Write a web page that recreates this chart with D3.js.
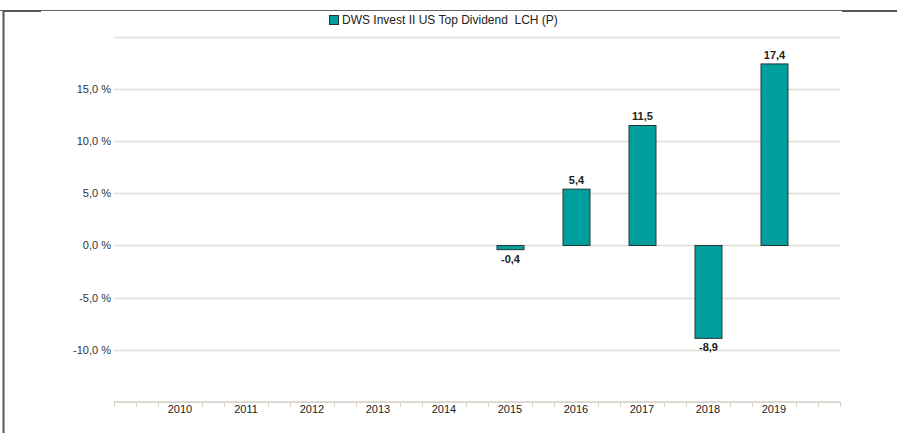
<!DOCTYPE html>
<html><head><meta charset="utf-8">
<script src="https://cdn.jsdelivr.net/npm/d3@7"></script>
<style>
html,body{margin:0;padding:0;background:#fff;}
svg{display:block;font-family:"Liberation Sans",Arial,sans-serif;}
</style></head>
<body>
<svg id="chart" width="897" height="433"></svg>
<script>
const years = [2010,2011,2012,2013,2014,2015,2016,2017,2018,2019];
const values = [null,null,null,null,null,-0.4,5.4,11.5,-8.9,17.4];
const yTicks = [-10,-5,0,5,10,15];
const gridTicks = [-10,-5,0,5,10,15,20];
const seriesName = "DWS Invest II US Top Dividend  LCH (P)";

const svg = d3.select("#chart");
const x = d3.scaleLinear().domain([2009,2020]).range([114,840]);
const y = d3.scaleLinear().domain([-15,20]).range([402,36.8]);
const fmt = v => d3.format(".1f")(v).replace(".", ",").replace("\u2212", "-");

// frame
svg.append("line").attr("x1",0).attr("x2",897).attr("y1",10.5).attr("y2",10.5).attr("stroke","#666").attr("stroke-width",1);
svg.append("line").attr("x1",3).attr("x2",41).attr("y1",11).attr("y2",11).attr("stroke","#555").attr("stroke-width",2);
svg.append("line").attr("x1",842).attr("x2",897).attr("y1",11).attr("y2",11).attr("stroke","#555").attr("stroke-width",2);
svg.append("line").attr("x1",3.5).attr("x2",3.5).attr("y1",10).attr("y2",433).attr("stroke","#555").attr("stroke-width",2);

// grid
svg.append("g").selectAll("line").data(gridTicks).join("line")
  .attr("x1",114).attr("x2",840)
  .attr("y1",d=>Math.round(y(d))+0.5).attr("y2",d=>Math.round(y(d))+0.5)
  .attr("stroke","#e0ddd3").attr("stroke-width",1.5);

// y labels
svg.append("g").selectAll("text").data(yTicks).join("text")
  .attr("x",111).attr("y",d=>y(d)).attr("dy","0.35em")
  .attr("text-anchor","end").attr("font-size",11).attr("fill","#333")
  .text(d=>fmt(d)+" %");

// x axis
const axisY = y(-15);
svg.append("line").attr("x1",114).attr("x2",840).attr("y1",axisY).attr("y2",axisY)
  .attr("stroke","#dcd9d0").attr("stroke-width",2);
const minor = d3.range(0,34).map(k=>2009+k/3).filter((v,i)=> i===0 || i===33 || i%3!==0);
svg.append("g").selectAll("line").data(minor).join("line")
  .attr("x1",d=>Math.round(x(d))+0.5).attr("x2",d=>Math.round(x(d))+0.5)
  .attr("y1",axisY).attr("y2",axisY+5)
  .attr("stroke","#d6d3ca").attr("stroke-width",1);
svg.append("g").selectAll("text").data(years).join("text")
  .attr("x",d=>x(d)).attr("y",axisY+7).attr("dy","0.35em")
  .attr("text-anchor","middle").attr("font-size",11).attr("fill","#222")
  .text(d=>d);

// bars
const data = years.map((yr,i)=>({yr, v:values[i]})).filter(d=>d.v!==null);
const bw = 27;
svg.append("g").selectAll("rect").data(data).join("rect")
  .attr("x",d=>x(d.yr)-bw/2+0.5).attr("width",bw)
  .attr("y",d=>y(Math.max(0,d.v))).attr("height",d=>Math.abs(y(d.v)-y(0)))
  .attr("fill","#009e9c").attr("stroke","#263636").attr("stroke-width",1);
svg.append("g").selectAll("text").data(data).join("text")
  .attr("x",d=>x(d.yr)+0.5)
  .attr("y",d=> d.v>=0 ? y(d.v)-5 : y(d.v)+13)
  .attr("text-anchor","middle").attr("font-size",11).attr("font-weight","bold").attr("fill","#222")
  .text(d=>fmt(d.v));

// legend
svg.append("rect").attr("x",329.5).attr("y",15.5).attr("width",9).attr("height",9)
  .attr("fill","#009e9c").attr("stroke","#263636");
svg.append("text").attr("x",342).attr("y",20).attr("dy","0.35em")
  .attr("font-size",12).attr("fill","#222").style("white-space","pre")
  .text(seriesName);
</script>
</body></html>
